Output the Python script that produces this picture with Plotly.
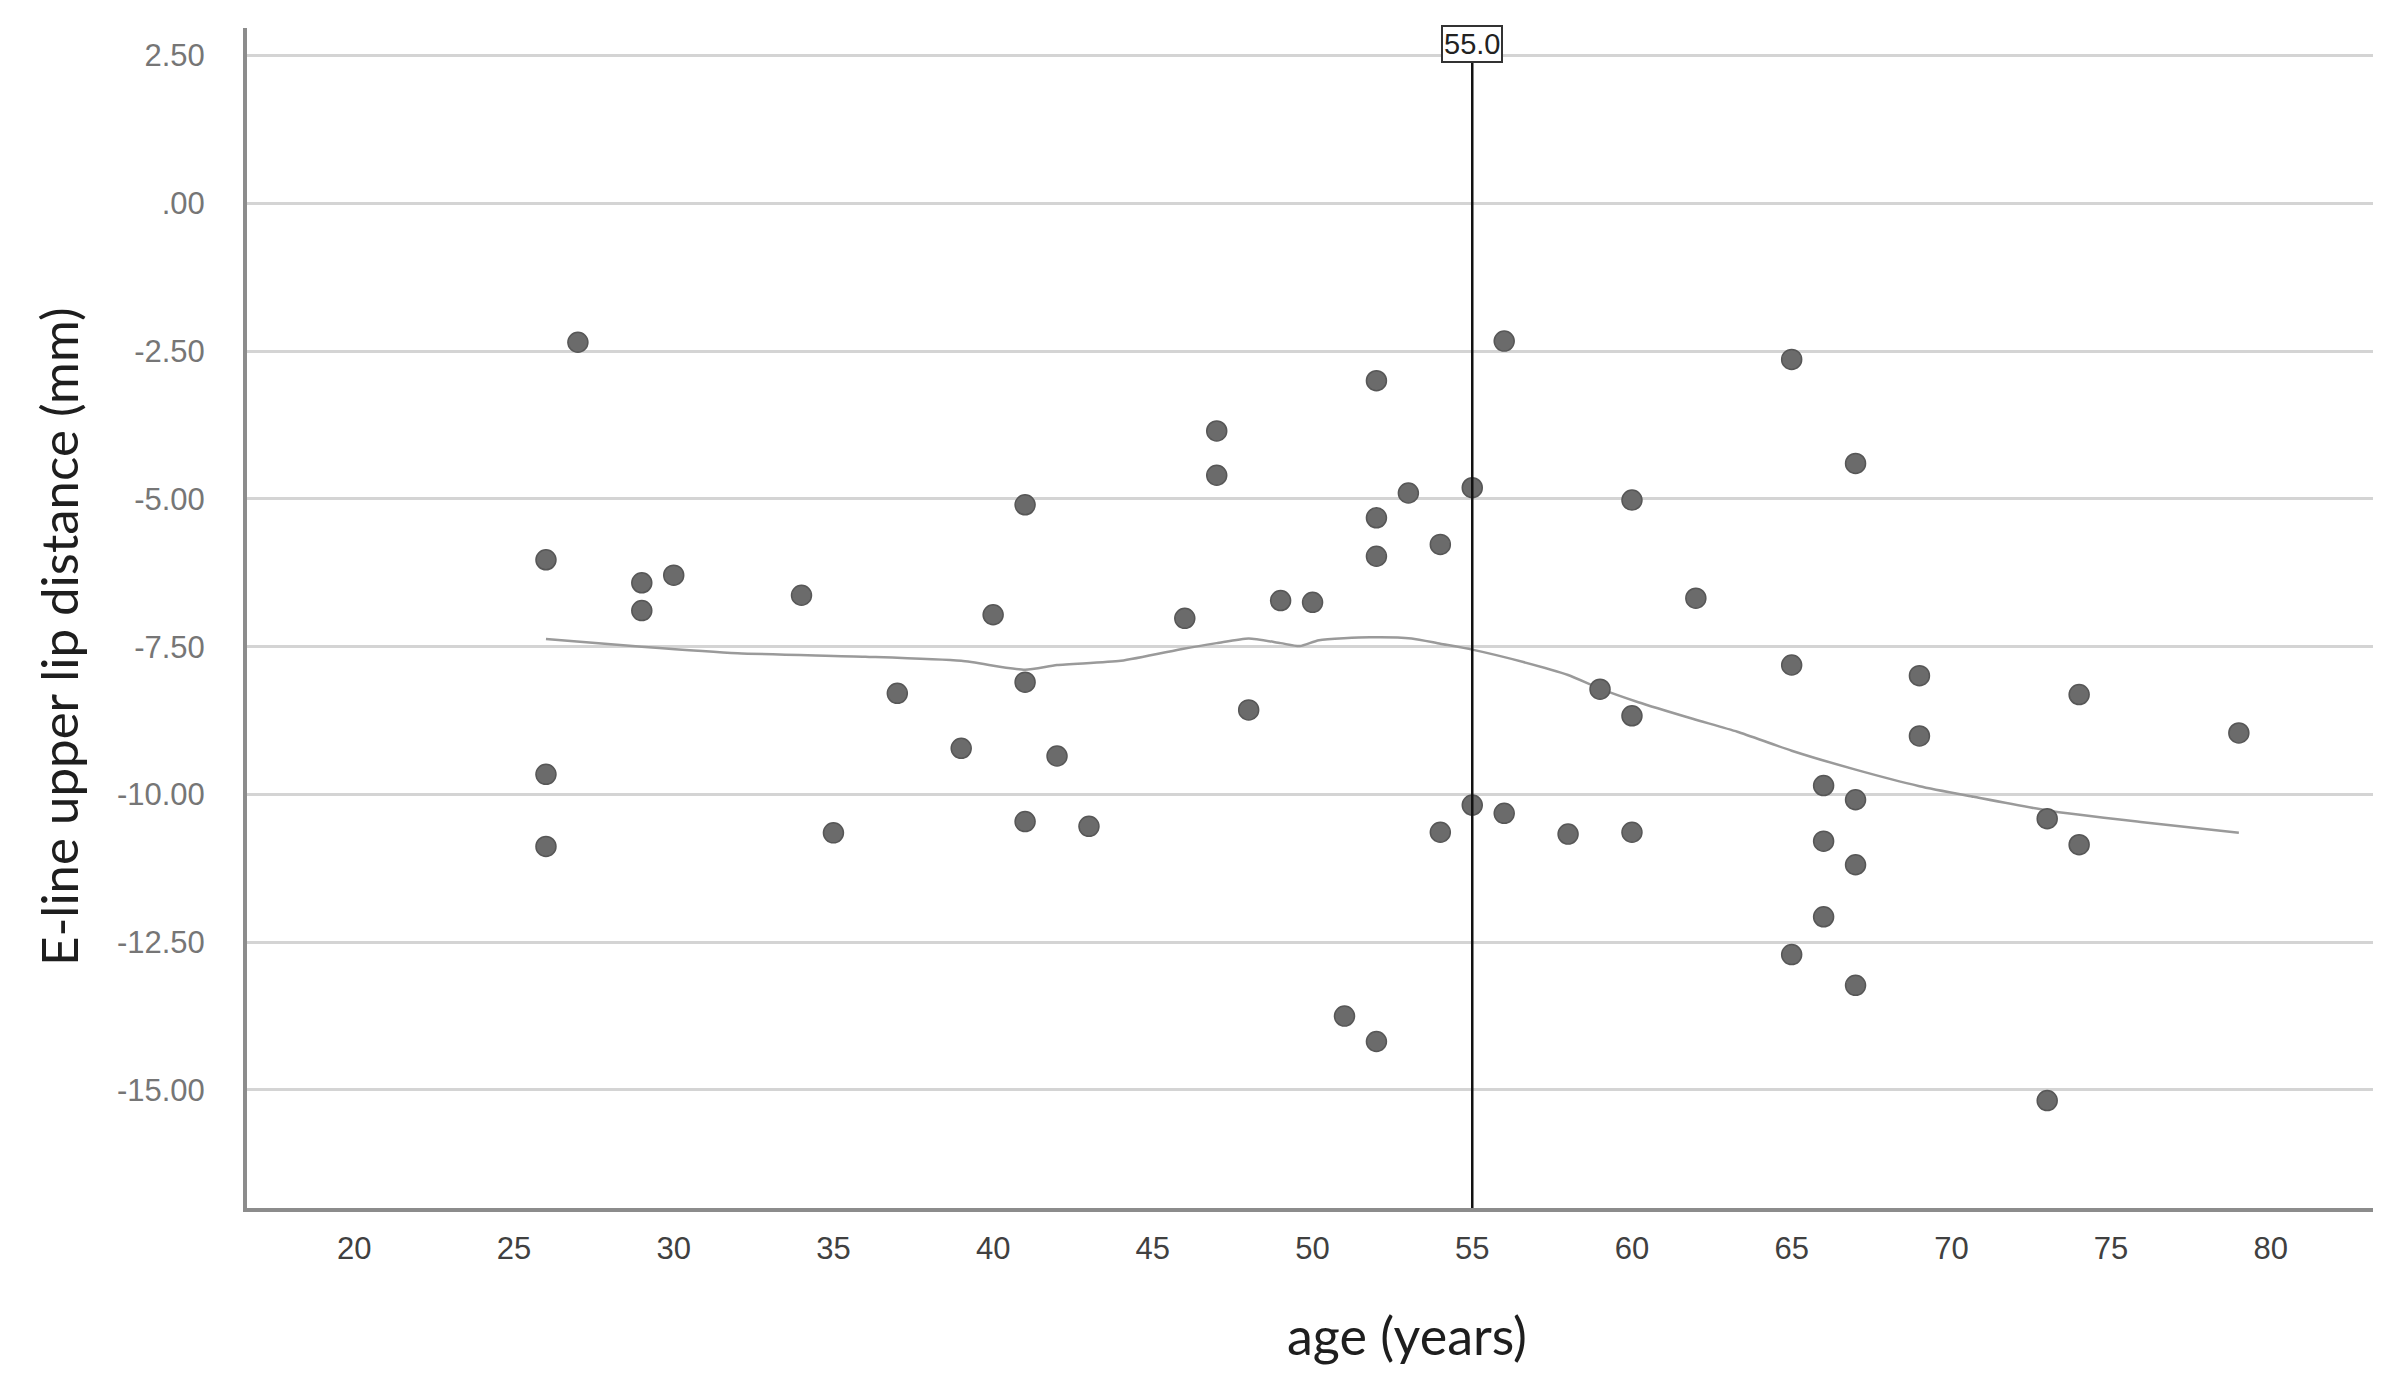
import plotly.graph_objects as go

# ---- data ----
age = [26, 26, 26, 27, 29, 29, 30, 34, 35, 37, 39, 40, 41, 41, 41, 42, 43, 46, 47, 47,
       48, 49, 50, 51, 52, 52, 52, 52, 53, 54, 54, 55, 55, 56, 56, 58, 59, 60, 60, 60,
       62, 65, 65, 65, 66, 66, 66, 67, 67, 67, 67, 69, 69, 73, 73, 74, 74, 79]
eline = [-6.03, -9.66, -10.88, -2.35, -6.42, -6.89, -6.29, -6.63, -10.65, -8.29,
         -9.22, -6.96, -5.10, -8.10, -10.46, -9.35, -10.54, -7.02, -3.85, -4.60,
         -8.57, -6.72, -6.75, -13.75, -3.00, -5.32, -5.97, -14.18, -4.90, -5.77,
         -10.64, -4.81, -10.18, -2.33, -10.32, -10.67, -8.22, -5.02, -8.67, -10.64,
         -6.68, -2.64, -7.81, -12.71, -9.85, -10.79, -12.07, -4.40, -10.09, -11.19,
         -13.23, -7.99, -9.01, -10.41, -15.18, -8.31, -10.85, -8.96]

loess_age = [26, 29, 32, 36, 39, 41, 42, 44, 46, 47, 48, 49, 49.6, 50.2, 51.8, 53.1,
             54, 55, 56.6, 58, 59, 60.2, 61.9, 63.3, 65, 67, 69, 70.7, 73, 76, 79]
loess_fit = [-7.37, -7.50, -7.61, -7.67, -7.74, -7.89, -7.81, -7.74, -7.53, -7.44,
             -7.36, -7.44, -7.49, -7.39, -7.34, -7.36, -7.45, -7.55, -7.76, -7.98,
             -8.21, -8.44, -8.72, -8.94, -9.26, -9.58, -9.86, -10.04, -10.27, -10.47,
             -10.65]

ref_age = 55.0
ref_label = "55.0"

x_title = "age (years)"
y_title = "E-line upper lip distance (mm)"
x_ticks = [20, 25, 30, 35, 40, 45, 50, 55, 60, 65, 70, 75, 80]
y_ticks = [2.5, 0, -2.5, -5, -7.5, -10, -12.5, -15]
y_tick_labels = ["2.50", ".00", "-2.50", "-5.00", "-7.50", "-10.00", "-12.50", "-15.00"]

fig = go.Figure()

fig.add_trace(go.Scatter(
    x=loess_age, y=loess_fit, mode="lines",
    line=dict(color="#9a9a9a", width=2.5, shape="spline", smoothing=0.6),
    hoverinfo="skip", showlegend=False))

fig.add_trace(go.Scatter(
    x=age, y=eline, mode="markers",
    marker=dict(size=20, color="#6b6b6b", line=dict(color="#575757", width=1.5)),
    showlegend=False))

fig.add_shape(type="line", xref="x", yref="paper", x0=ref_age, x1=ref_age,
              y0=0, y1=0.975, line=dict(color="#111111", width=2.5), layer="above")

fig.add_annotation(x=ref_age, xref="x", y=0.9865, yref="paper", yanchor="middle",
                   text=ref_label, showarrow=False,
                   font=dict(family="Liberation Sans, Arial", size=29, color="#222"),
                   bgcolor="white", bordercolor="#333", borderwidth=2, borderpad=1)

# axis titles (offset from the plot centre as in the reference)
fig.add_annotation(x=0.5456, y=-0.1076, xref="paper", yref="paper",
                   xanchor="center", yanchor="middle", showarrow=False,
                   text=x_title, font=dict(family="Lato", size=52, color="#1e1e1e"))
fig.add_annotation(x=-0.0889, y=0.4847, xref="paper", yref="paper",
                   xanchor="center", yanchor="middle", showarrow=False, textangle=-90,
                   text=y_title, font=dict(family="Lato", size=51, color="#1e1e1e"))

fig.update_layout(
    width=2388, height=1370,
    margin=dict(l=239, r=23, t=20, b=170),
    paper_bgcolor="white", plot_bgcolor="white",
    xaxis=dict(range=[16.64, 83.2], tickmode="array", tickvals=x_ticks,
               showgrid=False, zeroline=False,
               showline=True, linecolor="#8c8c8c", linewidth=4,
               ticks="", ticklabelstandoff=10,
               tickfont=dict(family="Liberation Sans, Arial", size=31, color="#404040")),
    yaxis=dict(range=[-16.997, 2.967], tickmode="array", tickvals=y_ticks, ticktext=y_tick_labels,
               showgrid=True, gridcolor="#d4d4d4", gridwidth=3, zeroline=False,
               showline=True, linecolor="#8c8c8c", linewidth=4,
               ticks="", ticklabelstandoff=32,
               tickfont=dict(family="Liberation Sans", size=31, color="#767676")),
)

fig.write_html("out.html")
